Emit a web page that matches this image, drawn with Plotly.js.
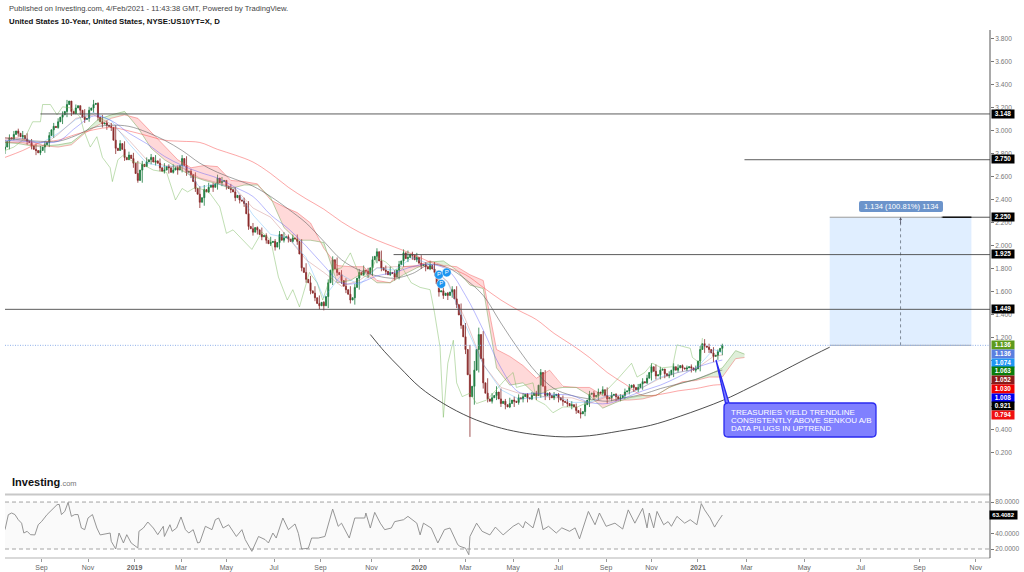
<!DOCTYPE html>
<html><head><meta charset="utf-8">
<script src="https://cdn.plot.ly/plotly-3.0.1.min.js"></script>
<style>html,body{margin:0;padding:0;background:#fff}#c{width:1024px;height:572px}</style>
</head><body><div id="c"></div>
<script>
const tickBars=[33,75,117,159,200,243,285,331,374,416,459,500,543,584,626,670,722,773,826,877];
const tickNames=["Sep","Nov","<b>2019</b>","Mar","May","Jul","Sep","Nov","<b>2020</b>","Mar","May","Jul","Sep","Nov","<b>2021</b>","Mar","May","Jul","Sep","Nov"];
const priceTicks=[3.8,3.6,3.4,3.2,3.0,2.8,2.6,2.4,2.2,2.0,1.8,1.6,1.4,1.2,1.0,0.8,0.6,0.4,0.2];
const hiddenPriceTicks=[1.0,0.8,0.6];
const rsiTicks=[80,60,40,20];

const closes=[2.86,2.94,2.97,2.98,2.96,2.91,2.87,2.83,2.83,2.88,2.96,3.04,3.08,3.14,3.23,3.17,3.20,3.18,3.10,3.18,3.23,3.12,3.06,3.05,3.03,2.85,2.89,2.77,2.79,2.72,2.57,2.71,2.73,2.77,2.74,2.68,2.66,2.68,2.66,2.66,2.76,2.64,2.62,2.50,2.38,2.49,2.51,2.51,2.59,2.56,2.52,2.49,2.42,2.40,2.37,2.17,2.12,2.14,2.08,2.05,2.03,1.99,2.10,2.07,2.06,2.07,2.04,1.81,1.71,1.61,1.55,1.48,1.48,1.68,1.88,1.77,1.70,1.62,1.53,1.64,1.77,1.79,1.76,1.88,1.95,1.81,1.78,1.77,1.73,1.84,1.94,1.90,1.92,1.90,1.83,1.82,1.83,1.77,1.60,1.57,1.57,1.62,1.49,1.31,1.10,0.69,0.92,1.23,0.81,0.67,0.68,0.73,0.63,0.62,0.63,0.65,0.68,0.69,0.68,0.70,0.70,0.90,0.70,0.70,0.70,0.68,0.65,0.63,0.62,0.57,0.54,0.62,0.71,0.69,0.73,0.75,0.67,0.70,0.69,0.68,0.73,0.77,0.77,0.77,0.82,0.85,0.95,0.87,0.92,0.89,0.88,0.95,0.94,0.94,0.94,0.94,0.93,1.10,1.13,1.10,1.04,1.08,1.136];
const midCloses=[2.91,2.93,3.00,2.95,2.93,2.90,2.84,2.81,2.86,2.90,3.01,3.03,3.12,3.17,3.26,3.15,3.22,3.12,3.11,3.20,3.24,3.08,3.07,3.04,2.92,2.83,2.84,2.75,2.76,2.63,2.66,2.69,2.75,2.73,2.72,2.65,2.69,2.64,2.68,2.70,2.70,2.65,2.56,2.45,2.42,2.47,2.53,2.54,2.55,2.57,2.50,2.47,2.44,2.39,2.28,2.15,2.16,2.10,2.09,2.02,2.04,2.03,2.05,2.08,2.04,2.06,1.93,1.77,1.68,1.59,1.50,1.51,1.56,1.79,1.80,1.75,1.65,1.58,1.55,1.72,1.75,1.78,1.81,1.91,1.87,1.79,1.75,1.76,1.79,1.87,1.89,1.93,1.88,1.85,1.84,1.80,1.80,1.67,1.61,1.59,1.60,1.54,1.40,1.21,0.88,0.78,1.10,1.02,0.72,0.65,0.70,0.67,0.65,0.60,0.66,0.64,0.67,0.71,0.67,0.72,0.79,0.78,0.72,0.68,0.71,0.66,0.64,0.61,0.60,0.55,0.56,0.66,0.72,0.70,0.72,0.70,0.68,0.71,0.67,0.70,0.74,0.79,0.75,0.80,0.81,0.90,0.91,0.88,0.93,0.87,0.92,0.92,0.96,0.93,0.95,0.92,1.00,1.15,1.12,1.07,1.05,1.11];
const highs=[2.92,2.97,3.00,3.02,3.00,2.98,2.93,2.89,2.87,2.91,2.99,3.07,3.11,3.17,3.27,3.25,3.23,3.22,3.19,3.21,3.27,3.25,3.14,3.09,3.07,3.05,2.92,2.91,2.82,2.81,2.74,2.74,2.77,2.80,2.79,2.76,2.72,2.71,2.71,2.70,2.79,2.78,2.67,2.64,2.52,2.53,2.55,2.55,2.62,2.60,2.57,2.54,2.51,2.44,2.42,2.39,2.20,2.17,2.16,2.11,2.08,2.06,2.13,2.12,2.10,2.10,2.10,2.06,1.85,1.74,1.65,1.57,1.52,1.71,1.91,1.90,1.79,1.72,1.65,1.67,1.80,1.83,1.81,1.91,1.98,1.96,1.83,1.82,1.79,1.87,1.97,1.96,1.95,1.94,1.92,1.86,1.87,1.86,1.79,1.64,1.60,1.65,1.65,1.50,1.33,1.14,1.00,1.29,1.26,0.85,0.72,0.78,0.76,0.67,0.68,0.69,0.71,0.72,0.72,0.73,0.74,0.93,0.92,0.73,0.73,0.72,0.70,0.67,0.65,0.63,0.59,0.65,0.74,0.74,0.76,0.78,0.77,0.73,0.72,0.71,0.76,0.80,0.80,0.80,0.85,0.88,0.98,0.97,0.95,0.93,0.91,0.98,0.97,0.97,0.96,0.97,0.96,1.13,1.19,1.15,1.12,1.10,1.15];
const lows=[2.80,2.84,2.92,2.95,2.93,2.88,2.84,2.79,2.79,2.81,2.86,2.94,3.02,3.06,3.12,3.13,3.15,3.14,3.07,3.08,3.16,3.09,3.03,3.01,3.00,2.80,2.83,2.74,2.75,2.68,2.55,2.55,2.69,2.71,2.70,2.65,2.63,2.63,2.63,2.62,2.64,2.61,2.59,2.47,2.33,2.35,2.46,2.47,2.49,2.52,2.49,2.46,2.39,2.37,2.34,2.14,2.09,2.10,2.05,2.02,2.00,1.96,1.97,2.03,2.03,2.03,2.01,1.78,1.68,1.58,1.52,1.45,1.44,1.46,1.66,1.74,1.67,1.59,1.50,1.49,1.62,1.74,1.72,1.74,1.85,1.78,1.75,1.74,1.70,1.71,1.82,1.86,1.88,1.86,1.80,1.78,1.79,1.74,1.56,1.54,1.53,1.55,1.46,1.28,1.06,0.34,0.62,0.90,0.76,0.64,0.63,0.66,0.60,0.58,0.59,0.60,0.62,0.64,0.64,0.66,0.66,0.68,0.66,0.66,0.66,0.64,0.61,0.60,0.58,0.54,0.50,0.52,0.60,0.66,0.66,0.70,0.63,0.65,0.65,0.65,0.67,0.71,0.73,0.73,0.75,0.80,0.83,0.84,0.84,0.85,0.85,0.86,0.90,0.91,0.91,0.90,0.90,0.91,1.07,1.07,0.99,1.01,1.05];

const lineBars=[0,16,32,48,64,80,96,112,128,144,160,176,192,208,224,240,256,272,288,304,320,336,352,368,384,400,416,432,448,464,480,496,512,528,544,560,576,592,608,624,640,648];
const sma200=[2.77,2.83,2.90,2.92,2.97,3.01,3.03,3.00,2.96,2.92,2.91,2.90,2.84,2.79,2.73,2.63,2.51,2.41,2.32,2.21,2.12,2.05,1.99,1.93,1.86,1.81,1.75,1.64,1.53,1.44,1.36,1.24,1.14,1.03,0.90,0.80,0.70,0.71,0.74,0.76,0.79,0.794];
const sma100=[2.94,2.92,2.91,2.91,2.96,3.03,3.05,3.04,2.99,2.92,2.83,2.72,2.64,2.58,2.52,2.43,2.32,2.20,2.04,1.88,1.79,1.74,1.72,1.76,1.84,1.81,1.71,1.57,1.33,1.10,0.90,0.76,0.70,0.67,0.65,0.68,0.71,0.76,0.80,0.84,0.90,0.921];
const sma50=[2.92,2.91,2.90,2.91,3.03,3.13,3.09,2.98,2.89,2.78,2.70,2.64,2.59,2.51,2.43,2.27,2.15,2.00,1.83,1.68,1.68,1.74,1.77,1.82,1.84,1.79,1.57,1.27,0.94,0.73,0.72,0.71,0.70,0.64,0.63,0.68,0.74,0.79,0.86,0.94,0.99,1.008];
const ema20=[2.91,2.94,2.89,2.98,3.10,3.16,3.09,2.89,2.72,2.69,2.70,2.51,2.54,2.50,2.27,2.10,2.07,1.90,1.55,1.75,1.66,1.81,1.79,1.90,1.84,1.68,1.31,0.97,0.75,0.67,0.68,0.70,0.64,0.64,0.70,0.70,0.77,0.86,0.90,0.93,1.10,1.074];
const kijun=[2.90,2.90,2.86,2.97,3.11,3.14,3.06,2.92,2.75,2.70,2.68,2.59,2.55,2.50,2.33,2.25,2.07,1.88,1.77,1.65,1.70,1.81,1.82,1.82,1.82,1.69,1.36,0.97,0.77,0.72,0.70,0.68,0.68,0.63,0.69,0.71,0.77,0.85,0.90,0.93,1.04,1.052];

const cloudBars=[0,12,24,36,48,60,72,84,96,108,120,132,144,156,168,180,192,204,216,228,240,252,264,276,288,300,312,324,336,348,360,372,384,396,408,420,432,444,456,468,480,492,504,516,528,540,552,564,576,588,600,612,624,636,648,660,668];
const senkouA=[2.90,2.89,2.87,2.87,2.88,2.90,2.99,3.10,3.14,3.17,3.03,2.85,2.75,2.68,2.61,2.57,2.54,2.50,2.53,2.53,2.42,2.16,2.05,2.05,2.03,1.68,1.70,1.77,1.68,1.68,1.75,1.81,1.86,1.87,1.79,1.66,1.63,0.94,0.79,0.81,0.70,0.75,0.77,0.77,0.70,0.59,0.64,0.68,0.70,0.70,0.77,0.81,0.84,0.88,0.94,1.09,1.06];
const senkouB=[2.94,2.94,2.91,2.87,2.86,2.88,2.98,3.05,3.11,3.14,3.11,2.99,2.87,2.75,2.68,2.70,2.69,2.57,2.56,2.54,2.40,2.34,2.29,2.20,1.98,1.83,1.82,1.82,1.70,1.68,1.82,1.83,1.87,1.83,1.82,1.75,1.70,1.10,1.04,0.96,0.85,0.92,0.78,0.77,0.77,0.70,0.66,0.66,0.67,0.70,0.77,0.82,0.83,0.86,0.86,1.02,1.03];

const chikouBars=[0,8,16,20,25,32,34,41,47,52,60,68,71,77,83,88,95,97,102,107,116,122,134,146,154,160,165,172,179,185,194,200,206,215,223,232,240,247,255,260,266,275,282,287,296,304,312,320,328,336,344,352,359,367,375,384,388,393,396,400,405,408,413,420,426,435,442,451,459,462,470,477,480,488,495,504,517,531,544,555,566,571,578,585,593,603,607,619,621,628,630];
const chikou=[2.83,2.86,2.92,2.98,3.08,3.08,3.23,3.23,3.14,3.21,3.20,3.12,3.01,2.86,2.95,2.77,2.68,2.56,2.75,2.79,2.73,2.72,2.66,2.64,2.40,2.50,2.47,2.51,2.49,2.46,2.34,2.11,2.14,2.05,1.97,2.12,2.05,1.73,1.53,1.62,1.47,1.77,1.68,1.53,1.79,1.81,1.94,1.75,1.73,1.90,1.86,1.79,1.81,1.68,1.64,1.62,1.42,1.12,0.51,0.98,1.18,0.81,0.69,0.72,0.63,0.66,0.73,0.83,0.90,0.77,0.79,0.81,0.66,0.62,0.55,0.60,0.60,0.66,0.75,0.86,0.98,0.86,0.90,0.98,0.94,0.95,1.14,1.11,1.03,0.98,1.20];

const rsiBars=[0,3,6,9,12,15,17,20,23,27,30,33,38,42,47,49,51,54,57,60,63,66,69,72,75,79,83,86,95,96,100,103,107,110,114,120,121,125,129,134,138,143,144,149,151,155,159,163,166,170,174,176,181,187,190,193,197,202,209,214,217,223,229,235,238,242,245,251,256,262,265,268,274,277,283,289,292,296,301,304,311,316,325,326,330,334,339,343,349,352,360,364,372,375,378,385,391,397,402,409,411,416,419,420,426,431,438,443,450,459,464,468,470,477,482,486,491,498,503,510,515,519,527,533,537,543,551,558,563,569,576,580,582,586,589,595,599,602,607,614,619,625,629,632,637,641,644,648];
const rsi=[44.7,63.8,66,64,57.4,53,40.4,42.6,38.3,38,51,55,64,70,76.6,77,64,68,79.6,61.7,64,64,46.8,44.7,59.6,64,46.8,38,40.4,29.8,20,40.4,27.7,38.3,27.7,21.3,42.6,46.8,54.5,46.8,38.3,49,36,51,42.6,46.8,60.9,44.7,40.4,44.7,27.7,28.5,49,44.7,57.4,59.6,46.8,51,36,44.7,32,17,36,32,27.7,40.4,34,59.6,44.7,52,40,20,21,34,34,36,51,71,49,53,34,59.6,59.6,66,46.8,66.8,53,44.7,46.8,55,57.4,61.7,53,38,53,46.8,27.7,44.7,46.8,25.5,23.4,21,12.7,36,53,42.6,38,48,38,49,53,47,55,47,72,44.7,49,40.4,47,42.6,47,33,68,51,66,49,53,45.5,70,53,72,47,66,47,68,51,55,49,61.7,53,57.4,51,78,70,59.6,48,55,63.4082];

const arcBars=[330,343,357,375,396,420,443,465,488,506,528,555,583,610,649,673,700,722,745];
const arcValues=[1.23,1.08,0.94,0.77,0.63,0.51,0.43,0.38,0.35,0.34,0.35,0.39,0.44,0.52,0.66,0.77,0.90,1.01,1.12];
const pBars=[392,399,394];
const pValues=[1.75,1.77,1.67];

const levelValues=[3.148,2.75,1.925,1.449];
const levelStarts=[32,668,351,0];
const lastPrice=1.136;
const targetPrice=2.25;
const boxBars=[745,873];
const midBar=809;
const priceLabels=[["3.148",114,"#000"],["2.750",159,"#000"],["2.250",217,"#000"],["1.925",254,"#000"],["1.449",309,"#000"],["1.136",345,"#5d9a1c"],["1.136",354,"#5b7fe0"],["1.074",363,"#2196f3"],["1.063",371,"#0a7d0a"],["1.052",380,"#8b1a1a"],["1.030",389,"#f00000"],["1.008",398,"#0000ee"],["0.921",406,"#000"],["0.794",415,"#f01010"],["63.4082",515,"#000"]];
const calloutLines=["TREASURIES YIELD TRENDLINE","CONSISTENTLY ABOVE SENKOU A/B","DATA PLUGS IN UPTREND"];

const FONT='"Liberation Sans", Arial, sans-serif';
const W=985,H=528;
const px=v=>(v-5)/W, py=v=>(558-v)/H;

// merge the read closes and the in-between closes into one candle row
const allBars=[],allOpen=[],allHigh=[],allLow=[],allClose=[];
let prev=2.84;
closes.forEach((c,i)=>{
  allBars.push(i*4);allOpen.push(prev);allClose.push(c);allHigh.push(highs[i]);allLow.push(lows[i]);prev=c;
  if(i<midCloses.length){const m=midCloses[i];allBars.push(i*4+2);allOpen.push(prev);allClose.push(m);allHigh.push(Math.max(prev,m));allLow.push(Math.min(prev,m));prev=m;}
});

let gx=[],gy=[],rx=[],ry=[];
function poly(X,Y,x,y){X.push(...x,null);Y.push(...y,null);}
for(let i=0;i<cloudBars.length-1;i++){
  const x0=cloudBars[i],x1=cloudBars[i+1],a0=senkouA[i],a1=senkouA[i+1],b0=senkouB[i],b1=senkouB[i+1];
  const d0=a0-b0,d1=a1-b1;
  if(d0*d1<0){
    const t=d0/(d0-d1),xc=x0+t*(x1-x0),yc=a0+t*(a1-a0);
    if(d0>0){poly(gx,gy,[x0,xc,x0],[a0,yc,b0]);poly(rx,ry,[xc,x1,x1],[yc,b1,a1]);}
    else{poly(rx,ry,[x0,xc,x0],[b0,yc,a0]);poly(gx,gy,[xc,x1,x1],[yc,a1,b1]);}
  } else if(d0+d1>=0){poly(gx,gy,[x0,x1,x1,x0],[a0,a1,b1,b0]);}
  else{poly(rx,ry,[x0,x1,x1,x0],[b0,b1,a1,a0]);}
}
const ln=(x,y,color,width,shape)=>({type:'scatter',mode:'lines',x,y,line:{color,width,shape:shape||'linear'},hoverinfo:'skip',xaxis:'x',yaxis:'y'});
const traces=[
 {type:'scatter',mode:'lines',x:rx,y:ry,fill:'toself',fillcolor:'rgba(255,120,120,0.28)',line:{width:0},hoverinfo:'skip',connectgaps:false},
 {type:'scatter',mode:'lines',x:gx,y:gy,fill:'toself',fillcolor:'rgba(110,180,80,0.22)',line:{width:0},hoverinfo:'skip',connectgaps:false},
 ln(cloudBars,senkouB,'rgba(240,70,70,0.50)',0.8),
 ln(cloudBars,senkouA,'rgba(80,150,50,0.50)',0.8),
 ln(chikouBars,chikou,'rgba(110,180,80,0.55)',0.8),
 ln(lineBars,sma200,'rgba(250,80,80,0.50)',1,'spline'),
 ln(lineBars,sma100,'rgba(90,90,90,0.62)',0.9,'spline'),
 ln(lineBars,sma50,'rgba(80,80,250,0.45)',0.9,'spline'),
 ln(lineBars,ema20,'rgba(70,170,250,0.45)',0.8),
 ln(lineBars,kijun,'rgba(170,60,60,0.35)',0.8),
 ln(arcBars,arcValues,'#3a3a3a',0.9,'spline'),
 {type:'candlestick',x:allBars,open:allOpen,high:allHigh,low:allLow,close:allClose,whiskerwidth:0,
  increasing:{line:{color:'#1a7a3e',width:0.8},fillcolor:'#1a7a3e'},
  decreasing:{line:{color:'#8a2a2a',width:0.8},fillcolor:'#8a2a2a'},hoverinfo:'skip',xaxis:'x',yaxis:'y'},
 {type:'scatter',mode:'markers+text',x:pBars,y:pValues,text:pBars.map(()=>'P'),textposition:'middle center',
  textfont:{color:'#fff',size:6,family:FONT},marker:{size:9,color:'#1e96f0',line:{color:'#fff',width:0.5}},hoverinfo:'skip'},
 {type:'scatter',mode:'lines',x:rsiBars,y:rsi,line:{color:'#8a8a8a',width:0.9},hoverinfo:'skip',xaxis:'x',yaxis:'y2'}
];
const shapes=[];
shapes.push({type:'rect',xref:'paper',x0:0,x1:1,yref:'y2',y0:20,y1:80,fillcolor:'#fafafa',line:{width:0},layer:'below'});
[80,20].forEach(v=>shapes.push({type:'line',xref:'paper',x0:0,x1:1,yref:'y2',y0:v,y1:v,line:{color:'#9a9a9a',width:0.9,dash:'4px,3px'},layer:'below'}));
shapes.push({type:'line',xref:'paper',x0:0,x1:1,yref:'paper',y0:py(494.5),y1:py(494.5),line:{color:'#c8c8c8',width:2}});
shapes.push({type:'line',xref:'paper',x0:0,x1:1,yref:'paper',y0:0,y1:0,line:{color:'#b4b4b4',width:1.2}});
shapes.push({type:'line',xref:'paper',x0:1,x1:1,yref:'paper',y0:0,y1:1,line:{color:'#555',width:1}});
shapes.push({type:'rect',x0:boxBars[0],x1:boxBars[1],y0:lastPrice,y1:targetPrice,fillcolor:'rgba(205,227,255,0.62)',line:{width:0},layer:'below'});
shapes.push({type:'line',x0:boxBars[0],x1:boxBars[1],y0:lastPrice,y1:lastPrice,line:{color:'#b4b9c0',width:1.4}});
shapes.push({type:'line',x0:boxBars[0],x1:boxBars[1],y0:targetPrice,y1:targetPrice,line:{color:'#9a9a9a',width:1}});
shapes.push({type:'line',x0:midBar,x1:midBar,y0:lastPrice,y1:targetPrice,line:{color:'#7f8a99',width:1,dash:'3px,3px'}});
levelValues.forEach((v,i)=>shapes.push({type:'line',x0:levelStarts[i],x1:889.8,y0:v,y1:v,line:{color:'#4a4a4a',width:0.9}}));
shapes.push({type:'line',x0:846,x1:889.8,y0:targetPrice,y1:targetPrice,line:{color:'#555',width:1}});
shapes.push({type:'line',x0:847,x1:873,y0:targetPrice,y1:targetPrice,line:{color:'#000',width:1.2}});
shapes.push({type:'line',x0:0,x1:889.8,y0:lastPrice,y1:lastPrice,line:{color:'#8fb0ea',width:1,dash:'1px,1.5px'}});
const P=(x,y)=>px(x).toFixed(5)+' '+py(y).toFixed(5);
const R=4,x0=724,x1=876,y0=403,y1=437;
shapes.push({type:'path',xref:'paper',yref:'paper',fillcolor:'#8080ff',line:{color:'#2a2af0',width:1.3},
 path:`M ${P(x0+R,y0)} L ${P(725.5,y0)} L ${P(716,360)} L ${P(729,y0)} L ${P(x1-R,y0)} Q ${P(x1,y0)} ${P(x1,y0+R)} L ${P(x1,y1-R)} Q ${P(x1,y1)} ${P(x1-R,y1)} L ${P(x0+R,y1)} Q ${P(x0,y1)} ${P(x0,y1-R)} L ${P(x0,y0+R)} Q ${P(x0,y0)} ${P(x0+R,y0)} Z`});
const lx0=859,lx1=943,ly0=201,ly1=212,r=2;
shapes.push({type:'path',xref:'paper',yref:'paper',fillcolor:'#6c94cb',line:{width:0},
 path:`M ${P(lx0+r,ly0)} L ${P(lx1-r,ly0)} Q ${P(lx1,ly0)} ${P(lx1,ly0+r)} L ${P(lx1,ly1-r)} Q ${P(lx1,ly1)} ${P(lx1-r,ly1)} L ${P(lx0+r,ly1)} Q ${P(lx0,ly1)} ${P(lx0,ly1-r)} L ${P(lx0,ly0+r)} Q ${P(lx0,ly0)} ${P(lx0+r,ly0)} Z`});

const annotations=[];
const txt=(x,y,text,font,extra)=>annotations.push(Object.assign({xref:'paper',yref:'paper',x:px(x),y:py(y),text,showarrow:false,xanchor:'left',yanchor:'middle',font:Object.assign({family:FONT},font),align:'left',borderpad:0},extra||{}));
txt(8,8.5,'Published on Investing.com, 4/Feb/2021 - 11:43:38 GMT, Powered by TradingView.',{size:7.6,color:'#444'});
txt(8,21.5,'<b>United States 10-Year, United States, NYSE:US10YT=X, D</b>',{size:7.8,color:'#111'});
txt(11,482,'<b>Investing</b><span style="font-size:7.5px;color:#777">.com</span>',{size:11,color:'#111'});
calloutLines.forEach((l,i)=>txt(730,412.5+i*8,l,{size:8,color:'#fff'}));
annotations.push({xref:'paper',yref:'paper',x:px(901),y:py(206.5),xanchor:'center',yanchor:'middle',text:'1.134 (100.81%) 1134',showarrow:false,font:{family:FONT,size:7.6,color:'#fff'}});
annotations.push({x:midBar,y:targetPrice,ax:0,ay:8,text:'',showarrow:true,arrowhead:2,arrowsize:0.7,arrowwidth:0.8,arrowcolor:'#556'});
priceLabels.forEach(l=>annotations.push({xref:'paper',yref:'paper',x:px(1003),y:py(l[1]),text:'<b>'+l[0]+'</b>',showarrow:false,xanchor:'center',yanchor:'middle',width:l[0].length>5?27:22,height:7.6,bgcolor:l[2],borderpad:0,font:{family:FONT,size:l[0].length>5?6:6.4,color:'#fff'}}));

const layout={width:1024,height:572,paper_bgcolor:'#fff',plot_bgcolor:'#fff',showlegend:false,
 margin:{l:5,r:34,t:30,b:14,pad:0},
 font:{family:FONT,size:7,color:'#555'},
 xaxis:{type:'linear',range:[0,889.8],tickmode:'array',tickvals:tickBars,ticktext:tickNames,showgrid:false,zeroline:false,ticks:'outside',ticklen:2.5,tickcolor:'#999',tickfont:{size:7,color:'#666'},rangeslider:{visible:false},anchor:'y2',showline:false,fixedrange:true},
 yaxis:{domain:[65/528,1],range:[-0.148,3.878],side:'right',anchor:'x',tickmode:'array',tickvals:priceTicks,ticktext:priceTicks.map(v=>hiddenPriceTicks.includes(v)?'':v.toFixed(3)),showgrid:false,zeroline:false,ticks:'outside',ticklen:3,tickcolor:'#777',tickfont:{size:6.6,color:'#777'},showline:false,fixedrange:true},
 yaxis2:{domain:[0,63/528],range:[8.5,89],side:'right',anchor:'x',tickmode:'array',tickvals:rsiTicks,ticktext:rsiTicks.map(v=>v===60?'':v.toFixed(4)),showgrid:false,zeroline:false,ticks:'outside',ticklen:3,tickcolor:'#777',tickfont:{size:6.6,color:'#777'},showline:false,fixedrange:true},
 shapes,annotations};
Plotly.newPlot('c',traces,layout,{displayModeBar:false,staticPlot:true});
</script></body></html>
